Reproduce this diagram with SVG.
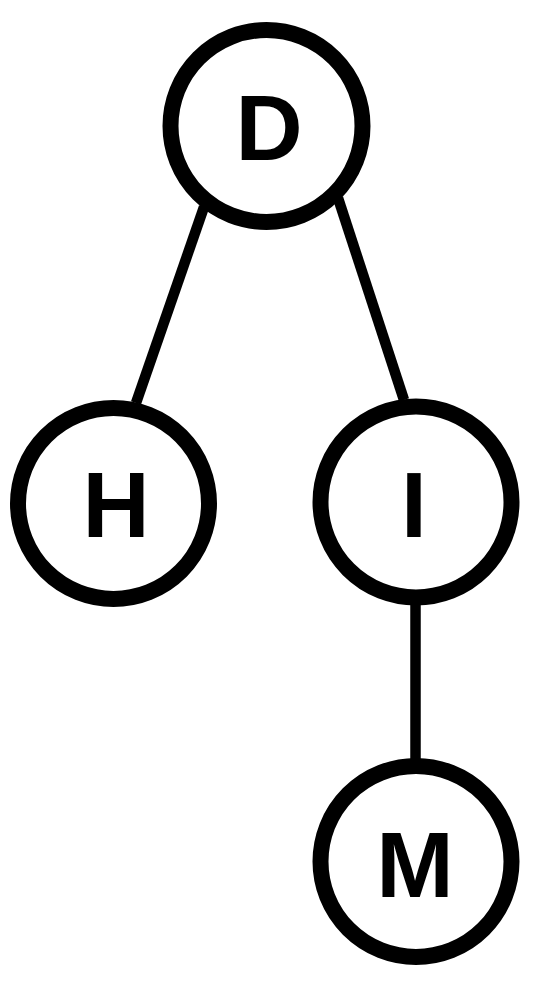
<svg xmlns="http://www.w3.org/2000/svg" width="544" height="982" viewBox="0 0 544 982">
<style>
.edge{stroke:#000;stroke-width:10.5;fill:none}
.node circle{fill:#fff;stroke:#000;stroke-width:16}
.node text{font-family:"Liberation Sans",Arial,sans-serif;font-weight:bold;font-size:93px;text-anchor:middle;fill:#000}
</style>
<rect width="544" height="982" fill="#fff"/>
<g id="edges">
<line class="edge" x1="204" y1="207" x2="136" y2="403"/>
<line class="edge" x1="338" y1="198" x2="404" y2="400"/>
<line class="edge" x1="415.5" y1="605" x2="415.5" y2="762"/>
</g>
<g id="node-D" class="node"><circle cx="266.5" cy="126" r="96"/><text x="269" y="160">D</text></g>
<g id="node-H" class="node"><circle cx="113.5" cy="503.5" r="95.5"/><text x="116" y="537">H</text></g>
<g id="node-I" class="node"><circle cx="416" cy="502" r="95.5"/><text x="414" y="537">I</text></g>
<g id="node-M" class="node"><circle cx="416" cy="861.5" r="95.5"/><text x="415" y="897">M</text></g>
</svg>
